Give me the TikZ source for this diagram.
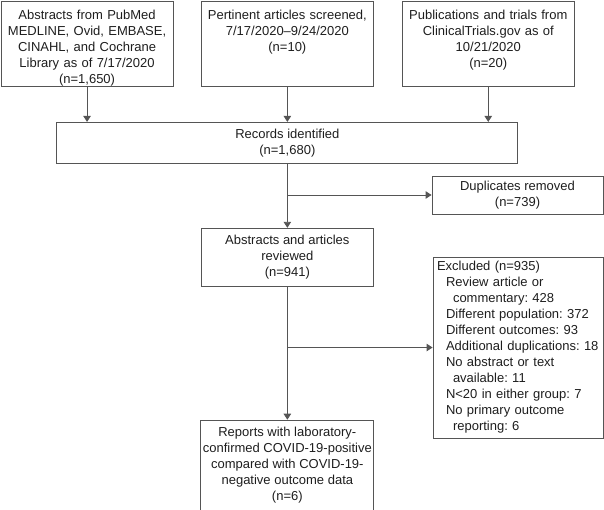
\documentclass[tikz,border=0pt]{standalone}
\usepackage{fontspec}
\setmainfont{Liberation Sans}
\frenchspacing
\usetikzlibrary{arrows.meta, positioning}
\definecolor{cline}{HTML}{555555}
\definecolor{ctext}{HTML}{1E1E1E}
\tikzset{
  every picture/.style={line width=0.9pt},
  box/.style={draw=cline, text=ctext, align=center, inner xsep=2pt, inner ysep=2pt, font=\fontsize{13}{16}\selectfont},
  srcbox/.style={box, text width=166pt, inner xsep=3pt, inner ysep=0pt, text height=18.4pt, text depth=67pt},
  exbox/.style={box, align=left, text width=162pt, inner xsep=4pt, minimum height=181pt},
  arrow/.style={-{Triangle[length=6pt, width=7.5pt]}, draw=cline, line width=0.9pt},
}

\begin{document}
\begin{tikzpicture}
  \useasboundingbox (0pt,0pt) rectangle (604pt,-509pt);
  % sources
  \node[srcbox, anchor=north west] (pubmed) at (0.6pt,-0.6pt) {Abstracts from PubMed\\MEDLINE, Ovid, EMBASE,\\CINAHL, and Cochrane\\Library as of 7/17/2020\\(n=1,650)};
  \node[srcbox, right=27.4pt of pubmed] (screened) {Pertinent articles screened,\\7/17/2020--9/24/2020\\(n=10)};
  \node[srcbox, right=28pt of screened] (trials) {Publications and trials from\\ClinicalTrials.gov as of\\10/21/2020\\(n=20)};
  % main column
  \node[box, minimum width=461pt, minimum height=41pt, below=35pt of screened] (records) {Records identified\\(n=1,680)};
  \node[box, minimum width=172pt, minimum height=58pt, below=64pt of records] (abstracts) {Abstracts and articles\\reviewed\\(n=941)};
  \node[box, minimum width=172pt, minimum height=90pt, below=133pt of abstracts] (reports) {Reports with laboratory-\\confirmed COVID-19-positive\\compared with COVID-19-\\negative outcome data\\(n=6)};
  % removed on the right
  \node[box, minimum width=171pt, minimum height=38pt] (dups) at (517.5pt,-195pt) {Duplicates removed\\(n=739)};
  \node[exbox] (excl) at (518pt,-347.5pt) {Excluded (n=935)\\
    \hspace*{9pt}Review article or\\
    \hspace*{16pt}commentary: 428\\
    \hspace*{9pt}Different population: 372\\
    \hspace*{9pt}Different outcomes: 93\\
    \hspace*{9pt}Additional duplications: 18\\
    \hspace*{9pt}No abstract or text\\
    \hspace*{16pt}available: 11\\
    \hspace*{9pt}N<20 in either group: 7\\
    \hspace*{9pt}No primary outcome\\
    \hspace*{16pt}reporting: 6};
  % connectors
  \draw[arrow] (pubmed) -- (pubmed |- records.north);
  \draw[arrow] (screened) -- (records);
  \draw[arrow] (trials) -- (trials |- records.north);
  \draw[arrow] (records) -- (abstracts);
  \draw[arrow] (records |- dups) -- (dups);
  \draw[arrow] (abstracts) -- (reports);
  \draw[arrow] (abstracts |- excl) -- (excl);
\end{tikzpicture}
\end{document}
